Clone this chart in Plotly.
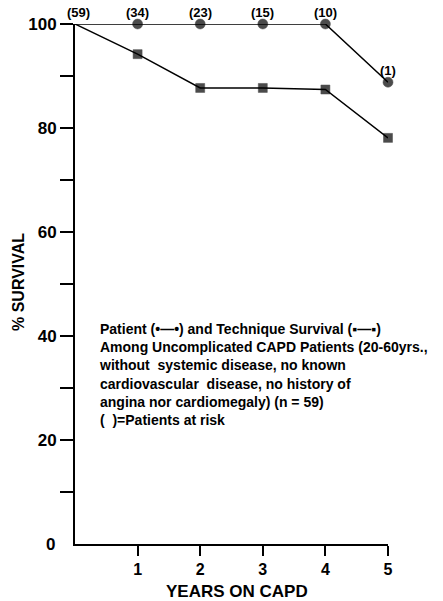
import plotly.graph_objects as go

years = [0, 1, 2, 3, 4, 5]
patient_survival = [100, 100, 100, 100, 100, 88.8]
technique_survival = [100, 94.2, 87.7, 87.7, 87.4, 78.1]
at_risk = ["(59)", "(34)", "(23)", "(15)", "(10)", "(1)"]
x_ticks = [1, 2, 3, 4, 5]
x_ticklabels = ["1", "2", "3", "4", "5"]
y_ticks = [10, 20, 30, 40, 50, 60, 70, 80, 90, 100]
y_ticklabels = ["", "20", "", "40", "", "60", "", "80", "", "100"]
note_lines = [
    "Patient (•—•) and Technique Survival (▪—▪)",
    "Among Uncomplicated CAPD Patients (20-60yrs.,",
    "without  systemic disease, no known",
    "cardiovascular  disease, no history of",
    "angina nor cardiomegaly) (n = 59)",
    "(  )=Patients at risk",
]

FONT = "Liberation Sans"
W, H = 443, 601
L, R, T, B = 75, 55, 24, 57
pw, ph = W - L - R, H - T - B

def px_x(p):
    return (p - L) / pw

def px_y(p):
    return (H - B - p) / ph

fig = go.Figure()
fig.add_trace(go.Scatter(
    x=years, y=technique_survival, mode="lines+markers",
    line=dict(color="black", width=1.5),
    marker=dict(symbol="square", size=[0, 9, 9, 9, 9, 9], color="black",
                line=dict(color="black", width=0.5)),
    cliponaxis=False, showlegend=False))
fig.add_trace(go.Scatter(
    x=years, y=patient_survival, mode="lines+markers",
    line=dict(color="black", width=1.5),
    marker=dict(symbol="circle", size=[0, 10, 10, 10, 10, 10], color="black",
                line=dict(color="black", width=0.5)),
    cliponaxis=False, showlegend=False))

for xv, yv, lab in zip(years, patient_survival, at_risk):
    fig.add_annotation(x=xv, y=yv, text=lab, showarrow=False, yshift=12,
                       xshift=3 if xv == 0 else 0,
                       font=dict(family=FONT, size=13, color="black", weight="bold"))

fig.add_annotation(x=px_x(57), xref="paper", y=0, text="0", showarrow=False,
                   xanchor="right", yanchor="middle",
                   font=dict(family=FONT, size=17, color="black", weight="bold"))

fig.add_annotation(x=px_x(97), xref="paper", y=px_y(319), yref="paper",
                   text="<br>".join(note_lines), showarrow=False, align="left",
                   xanchor="left", yanchor="top",
                   font=dict(family=FONT, size=14, color="black", weight="bold"))

fig.add_annotation(x=px_x(18), xref="paper", y=px_y(282), yref="paper",
                   text="% SURVIVAL", textangle=-90, showarrow=False,
                   xanchor="center", yanchor="middle",
                   font=dict(family=FONT, size=16, color="black", weight="bold"))
fig.add_annotation(x=px_x(237), xref="paper", y=px_y(591), yref="paper",
                   text="YEARS ON CAPD", showarrow=False,
                   xanchor="center", yanchor="middle",
                   font=dict(family=FONT, size=17, color="black", weight="bold"))

fig.update_xaxes(range=[0, 5], showline=True, linecolor="black", linewidth=2,
                 ticks="outside", ticklen=10, tickwidth=2, tickcolor="black",
                 tickvals=x_ticks, ticktext=x_ticklabels, showgrid=False, zeroline=False,
                 tickfont=dict(family=FONT, size=16, color="black", weight="bold"))
fig.update_yaxes(range=[0, 100], showline=True, linecolor="black", linewidth=2,
                 ticks="outside", ticklen=13, tickwidth=2, tickcolor="black",
                 tickvals=y_ticks, ticktext=y_ticklabels, showgrid=False, zeroline=False,
                 tickfont=dict(family=FONT, size=17, color="black", weight="bold"))

fig.update_layout(width=W, height=H, margin=dict(l=L, r=R, t=T, b=B),
                  paper_bgcolor="white", plot_bgcolor="white")
fig.write_html("out.html")
